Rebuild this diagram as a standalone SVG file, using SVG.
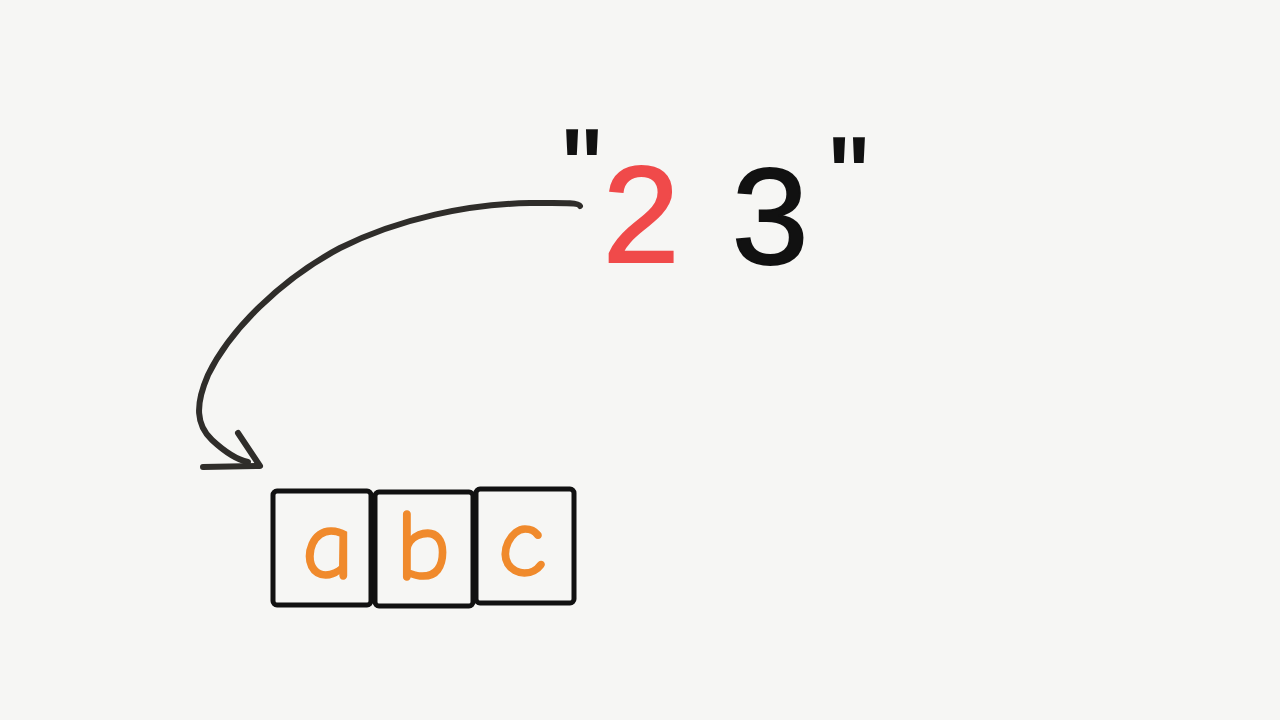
<svg xmlns="http://www.w3.org/2000/svg" width="1280" height="720" viewBox="0 0 1280 720">
<style>
.bg{fill:#f6f6f4}
.box{fill:none;stroke:#111;stroke-width:5;stroke-linejoin:round}
.letter{font-family:"Comic Neue","Liberation Sans",sans-serif;font-size:102px;fill:#f08a2c;stroke:#f08a2c;stroke-width:1.5;text-anchor:middle}
.digit{font-family:"Liberation Sans",sans-serif;font-size:138px;text-anchor:middle;stroke-width:2}
.quote{font-family:"Liberation Sans",sans-serif;font-size:110px;fill:#111;stroke:#111;stroke-width:2;text-anchor:middle}
.conn{fill:none;stroke:#2f2d2a;stroke-width:6;stroke-linecap:round;stroke-linejoin:round}
</style>
<rect class="bg" x="0" y="0" width="1280" height="720"/>
<g id="string-23">
<text class="quote" x="582" y="206">"</text>
<text class="digit" x="641" y="262" fill="#f04a4a" stroke="#f04a4a">2</text>
<text class="digit" x="770" y="264" fill="#111" stroke="#111">3</text>
<text class="quote" x="849" y="214">"</text>
</g>
<g id="box-a">
<rect class="box" x="273" y="491" width="98" height="114" rx="4"/>
<text class="letter" x="328" y="578">a</text>
</g>
<g id="box-b">
<rect class="box" x="375" y="492" width="98" height="114" rx="4"/>
<text class="letter" x="423" y="580">b</text>
</g>
<g id="box-c">
<rect class="box" x="476" y="489" width="98" height="114" rx="4"/>
<text class="letter" x="522" y="576">c</text>
</g>
<g id="connectors">
<path class="conn" d="M580,206 C578,202 560,203 530,203 C470,204 400,218 340,248 C280,280 230,330 208,375 C195,405 196,425 212,440 C225,452 238,460 248,462"/>
<path class="conn" d="M238,433 L260,466 L203,467"/>
</g>
</svg>
